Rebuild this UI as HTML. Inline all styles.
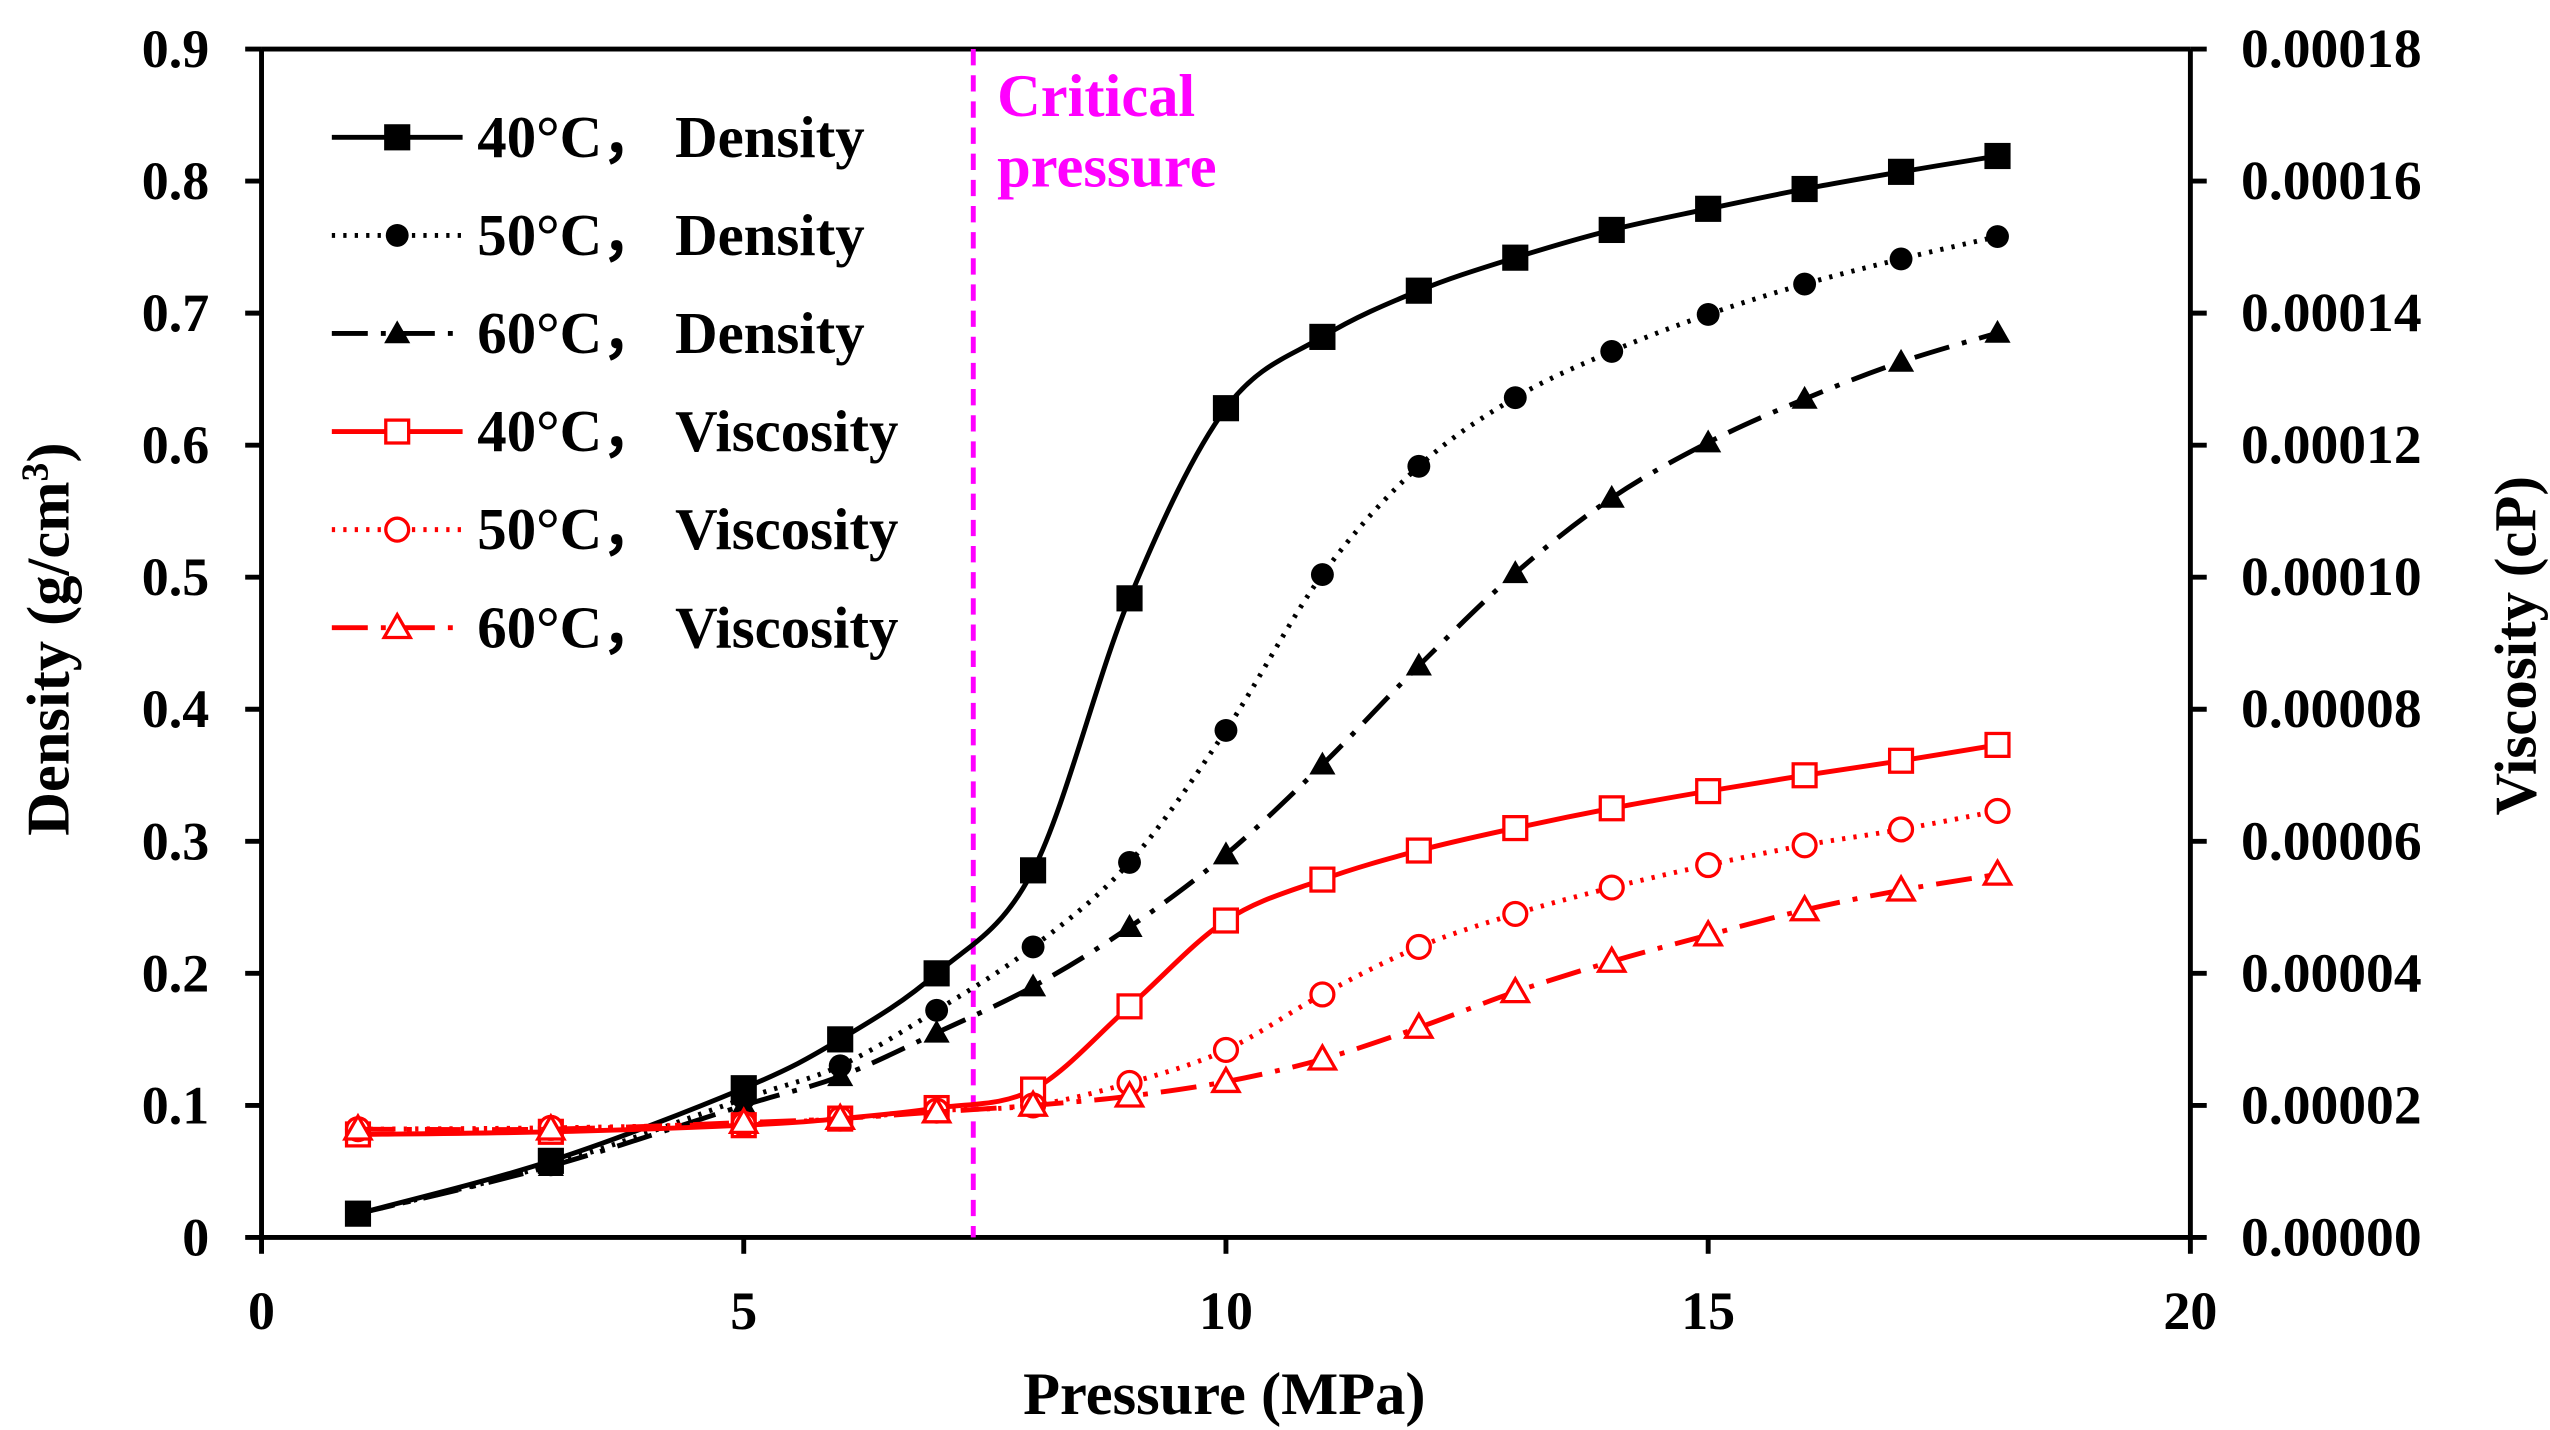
<!DOCTYPE html>
<html><head><meta charset="utf-8"><style>
html,body{margin:0;padding:0;background:#fff;}
svg{display:block;font-family:"Liberation Serif",serif;font-weight:bold;}
</style></head><body>
<svg id="chart" width="2550" height="1430" viewBox="0 0 1560 874.8" preserveAspectRatio="none" xmlns="http://www.w3.org/2000/svg">
<g id="axes"></g><g id="series"></g><g id="legend"></g>
</svg>
<script>
const pressures = [1,3,5,6,7,8,9,10,11,12,13,14,15,16,17,18];
const density40 = [0.018,0.058,0.113,0.15,0.2,0.278,0.484,0.628,0.682,0.717,0.742,0.763,0.779,0.794,0.807,0.819];
const density50 = [0.018,0.055,0.105,0.13,0.172,0.22,0.284,0.384,0.502,0.584,0.636,0.671,0.699,0.722,0.741,0.758];
const density60 = [0.018,0.054,0.1,0.122,0.155,0.19,0.235,0.29,0.358,0.433,0.503,0.56,0.602,0.635,0.663,0.685];
const viscosity40 = [1.56e-5,1.6e-5,1.7e-5,1.8e-5,1.96e-5,2.24e-5,3.5e-5,4.8e-5,5.42e-5,5.86e-5,6.2e-5,6.5e-5,6.76e-5,7.0e-5,7.22e-5,7.46e-5];
const viscosity50 = [1.64e-5,1.66e-5,1.72e-5,1.8e-5,1.92e-5,2.0e-5,2.34e-5,2.84e-5,3.68e-5,4.4e-5,4.9e-5,5.3e-5,5.64e-5,5.94e-5,6.18e-5,6.46e-5];
const viscosity60 = [1.64e-5,1.64e-5,1.74e-5,1.8e-5,1.9e-5,2.0e-5,2.14e-5,2.36e-5,2.7e-5,3.18e-5,3.72e-5,4.18e-5,4.58e-5,4.96e-5,5.26e-5,5.5e-5];
const xTicks = [0,5,10,15,20];
const yLeftTicks = [0,0.1,0.2,0.3,0.4,0.5,0.6,0.7,0.8,0.9];
const yRightTicks = [0,0.00002,0.00004,0.00006,0.00008,0.0001,0.00012,0.00014,0.00016,0.00018];
const yRightLabels = ["0.00000","0.00002","0.00004","0.00006","0.00008","0.00010","0.00012","0.00014","0.00016","0.00018"];
const criticalPressure = 7.38;

const NS="http://www.w3.org/2000/svg";
const X0=160,X1=1340,Y0=757,Y1=30;
const xs=v=>X0+(v-0)/20*(X1-X0);
const yl=v=>Y0-(v/0.9)*(Y0-Y1);
const yr=v=>Y0-(v/0.00018)*(Y0-Y1);
function mk(tag,attrs,parent){const e=document.createElementNS(NS,tag);for(const k in attrs)e.setAttribute(k,attrs[k]);parent.appendChild(e);return e;}
const axes=document.getElementById('axes'),ser=document.getElementById('series'),leg=document.getElementById('legend');

let e;
e=mk('line',{x1:X0,y1:Y1,x2:X0,y2:Y0,stroke:'#000','stroke-width':3},axes);


e=mk('line',{x1:X1,y1:Y1,x2:X1,y2:Y0,stroke:'#000','stroke-width':3},axes);


e=mk('line',{x1:X0,y1:Y0,x2:X1,y2:Y0,stroke:'#000','stroke-width':3},axes);


e=mk('line',{x1:X0,y1:Y1,x2:X1,y2:Y1,stroke:'#000','stroke-width':3},axes);



xTicks.forEach(t=>{
  mk('line',{x1:xs(t),y1:Y0,x2:xs(t),y2:Y0+10,stroke:'#000','stroke-width':3},axes);
  const tx=mk('text',{x:xs(t),y:813,'text-anchor':'middle','font-size':33},axes);
  tx.textContent=t;
  
  
});
yLeftTicks.forEach(t=>{
  mk('line',{x1:X0-10,y1:yl(t),x2:X0,y2:yl(t),stroke:'#000','stroke-width':3},axes);
  const tx=mk('text',{x:128,y:yl(t)+11,'text-anchor':'end','font-size':33},axes);
  tx.textContent=t;
  
  
});
yRightTicks.forEach((t,i)=>{
  mk('line',{x1:X1,y1:yr(t),x2:X1+10,y2:yr(t),stroke:'#000','stroke-width':3},axes);
  const tx=mk('text',{x:1371,y:yr(t)+11,'font-size':34},axes);
  tx.textContent=yRightLabels[i];
  
  
});
e=mk('text',{x:749,y:865,'text-anchor':'middle','font-size':37},axes);
e.textContent='Pressure (MPa)';


e=mk('text',{transform:'translate(42,391) rotate(-90)','text-anchor':'middle','font-size':37},axes);
e.innerHTML='Density (g/cm<tspan font-size="23" dy="-13">3</tspan><tspan dy="13">)</tspan>';


e=mk('text',{transform:'translate(1551,395) rotate(-90)','text-anchor':'middle','font-size':36},axes);
e.textContent='Viscosity (cP)';



e=mk('line',{x1:xs(criticalPressure),y1:Y1,x2:xs(criticalPressure),y2:Y0,stroke:'#ff00ff','stroke-width':3,'stroke-dasharray':'10,6'},axes);


e=mk('text',{x:610,y:71,'font-size':37,fill:'#ff00ff'},axes);
e.textContent='Critical';


e=mk('text',{x:610,y:114,'font-size':37,fill:'#ff00ff'},axes);
e.textContent='pressure';



function spline(pts){
  let d=`M${pts[0][0]},${pts[0][1]}`;
  for(let i=0;i<pts.length-1;i++){
    const p0=pts[Math.max(0,i-1)],p1=pts[i],p2=pts[i+1],p3=pts[Math.min(pts.length-1,i+2)];
    const c1=[p1[0]+(p2[0]-p0[0])/6,p1[1]+(p2[1]-p0[1])/6];
    const c2=[p2[0]-(p3[0]-p1[0])/6,p2[1]-(p3[1]-p1[1])/6];
    d+=` C${c1[0]},${c1[1]} ${c2[0]},${c2[1]} ${p2[0]},${p2[1]}`;
  }
  return d;
}
function marker(type,x,y,color,parent){
  let m;
  if(type==='square') m=mk('rect',{x:x-8,y:y-8,width:16,height:16,fill:color},parent);
  else if(type==='star') m=mk('circle',{cx:x,cy:y,r:7,fill:color},parent);
  else if(type==='tri') m=mk('polygon',{points:`${x},${y-8} ${x+8},${y+6} ${x-8},${y+6}`,fill:color},parent);
  else if(type==='osquare') m=mk('rect',{x:x-7,y:y-7,width:14,height:14,fill:'#fff',stroke:color,'stroke-width':2},parent);
  else if(type==='ocircle') m=mk('circle',{cx:x,cy:y,r:7,fill:'#fff',stroke:color,'stroke-width':2},parent);
  else m=mk('polygon',{points:`${x},${y-8} ${x+8},${y+6} ${x-8},${y+6}`,fill:'#fff',stroke:color,'stroke-width':2},parent);
  return m;
}
const seriesDefs=[
  {name:'density-40c',vals:density40,ax:yl,color:'#000',dash:'',mk:'square',label:'40°C，Density'},
  {name:'density-50c',vals:density50,ax:yl,color:'#000',dash:'2,5',mk:'star',label:'50°C，Density'},
  {name:'density-60c',vals:density60,ax:yl,color:'#000',dash:'22,8,3,8',mk:'tri',label:'60°C，Density'},
  {name:'viscosity-40c',vals:viscosity40,ax:yr,color:'#ff0000',dash:'',mk:'osquare',label:'40°C，Viscosity'},
  {name:'viscosity-50c',vals:viscosity50,ax:yr,color:'#ff0000',dash:'2,5',mk:'ocircle',label:'50°C，Viscosity'},
  {name:'viscosity-60c',vals:viscosity60,ax:yr,color:'#ff0000',dash:'22,8,3,8',mk:'otri',label:'60°C，Viscosity'}
];
seriesDefs.forEach((s,si)=>{
  const g=mk('g',{},ser);
  
  
  const pts=pressures.map((p,i)=>[xs(p),s.ax(s.vals[i])]);
  const path=mk('path',{d:spline(pts),fill:'none',stroke:s.color,'stroke-width':3,'stroke-dasharray':s.dash},g);
  
  
  pts.forEach(p=>{
    const m=marker(s.mk,p[0],p[1],s.color,g);
    
    
  });
  const ly=84+si*60;
  const lg=mk('g',{},leg);
  
  
  mk('line',{x1:203,y1:ly,x2:283,y2:ly,stroke:s.color,'stroke-width':3,'stroke-dasharray':s.dash},lg);
  marker(s.mk,243,ly,s.color,lg);
  const parts=s.label.split('，');
  const t1=mk('text',{x:292,y:ly+12,'font-size':36},lg);
  t1.textContent=parts[0]+'，';
  const t2=mk('text',{x:413,y:ly+12,'font-size':36},lg);
  t2.textContent=parts[1];
});
</script>
</body></html>
